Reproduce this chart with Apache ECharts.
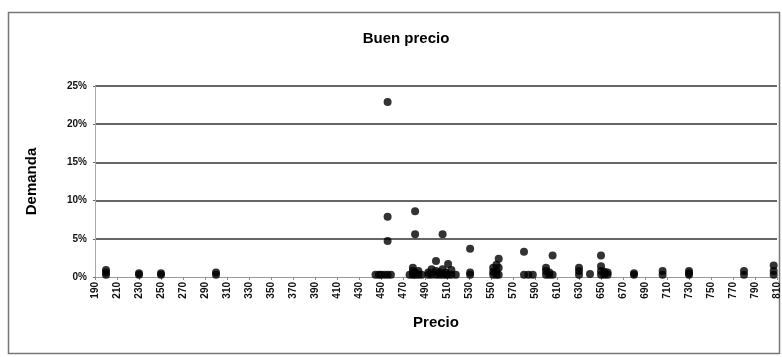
<!DOCTYPE html>
<html>
<head>
<meta charset="utf-8">
<script src="https://cdn.jsdelivr.net/npm/echarts@6/dist/echarts.min.js"></script>
<style>
html,body{margin:0;padding:0;background:#fff;}
#chart{width:782px;height:357px;}
</style>
</head>
<body>
<div id="chart"></div>
<script>
// Data (price, demand in %)
var prices = [
  200,200,200, 230,230, 250,250, 300,300,
  445,448,450,453,456,456,456,456,459,
  476,479,479,479,481,481,481,481,484,484,487,
  493,493,496,496,500,500,500,503,503,506,506,506,509,509,511,511,514,514,518,
  531,531,531,
  552,552,552,555,555,555,557,557,557,
  580,580,584,588,
  600,600,600,603,603,606,606,
  630,630,630,640,
  650,650,650,650,653,653,656,656,
  680,680,706,706,730,730,730,780,780,807,807,807
];
var demand = [
  0.3,0.6,0.9, 0.3,0.5, 0.3,0.5, 0.3,0.6,
  0.3,0.3,0.3,0.3,0.3,4.7,7.9,22.9,0.3,
  0.3,0.3,0.8,1.2,0.3,0.6,5.6,8.6,0.3,0.8,0.3,
  0.3,0.6,0.3,1.0,0.3,0.8,2.1,0.3,0.6,0.3,1.0,5.6,0.3,0.6,0.3,1.7,0.3,0.9,0.3,
  0.3,0.6,3.7,
  0.3,0.7,1.2,0.3,0.8,1.6,0.3,1.2,2.4,
  0.3,3.3,0.3,0.3,
  0.3,0.8,1.2,0.3,0.6,0.3,2.8,
  0.3,0.8,1.2,0.4,
  0.3,0.8,1.4,2.8,0.3,0.7,0.3,0.6,
  0.3,0.5,0.3,0.8,0.3,0.5,0.8,0.3,0.8,0.3,0.8,1.5
];
var xTicks = [190,210,230,250,270,290,310,330,350,370,390,410,430,450,470,490,510,530,550,570,590,610,630,650,670,690,710,730,750,770,790,810];
var yTicks = [0,5,10,15,20,25];

var points = prices.map(function(p,i){ return [p, demand[i]]; });
var FONT = "'Liberation Sans',Arial,sans-serif";

var chart = echarts.init(document.getElementById('chart'));
chart.setOption({
  animation: false,
  backgroundColor: '#fff',
  title: {
    text: 'Buen precio',
    left: 401, top: 26, textAlign: 'center',
    textStyle: {fontFamily: FONT, fontSize: 15, fontWeight: 'bold', color: '#000'}
  },
  graphic: [{
    type: 'rect', silent: true,
    shape: {x: 8.5, y: 12.5, width: 771, height: 341},
    style: {fill: 'none', stroke: '#777', lineWidth: 1.5}
  }],
  grid: {left: 95, right: 3, top: 86, bottom: 80},
  xAxis: {
    type: 'value',
    min: xTicks[0], max: xTicks[xTicks.length-1],
    name: 'Precio', nameLocation: 'middle', nameGap: 38,
    nameTextStyle: {fontFamily: FONT, fontSize: 15, fontWeight: 'bold', color: '#000'},
    axisLine: {show: true, lineStyle: {color: '#999', width: 1}},
    axisTick: {show: true, length: 3, customValues: xTicks, lineStyle: {color: '#888'}},
    axisLabel: {customValues: xTicks, rotate: 90, margin: 5, fontFamily: FONT, fontSize: 10, fontWeight: 'bold', color: '#111'},
    splitLine: {show: false}
  },
  yAxis: {
    type: 'value',
    min: yTicks[0], max: yTicks[yTicks.length-1], interval: 5,
    name: 'Demanda', nameLocation: 'middle', nameGap: 56, nameRotate: 90,
    nameTextStyle: {fontFamily: FONT, fontSize: 15, fontWeight: 'bold', color: '#000'},
    axisLine: {show: true, lineStyle: {color: '#aaa', width: 1}},
    axisTick: {show: true, length: 2, lineStyle: {color: '#666'}},
    axisLabel: {formatter: '{value}%', margin: 8, fontFamily: FONT, fontSize: 10, fontWeight: 'bold', color: '#111'},
    splitLine: {show: true, lineStyle: {color: ['transparent','#333','#333','#333','#333','#333'], width: 1.5}}
  },
  series: [{
    type: 'scatter',
    data: points,
    symbol: 'circle',
    symbolSize: 8,
    itemStyle: {color: '#000'}
  }]
});
</script>
</body>
</html>
